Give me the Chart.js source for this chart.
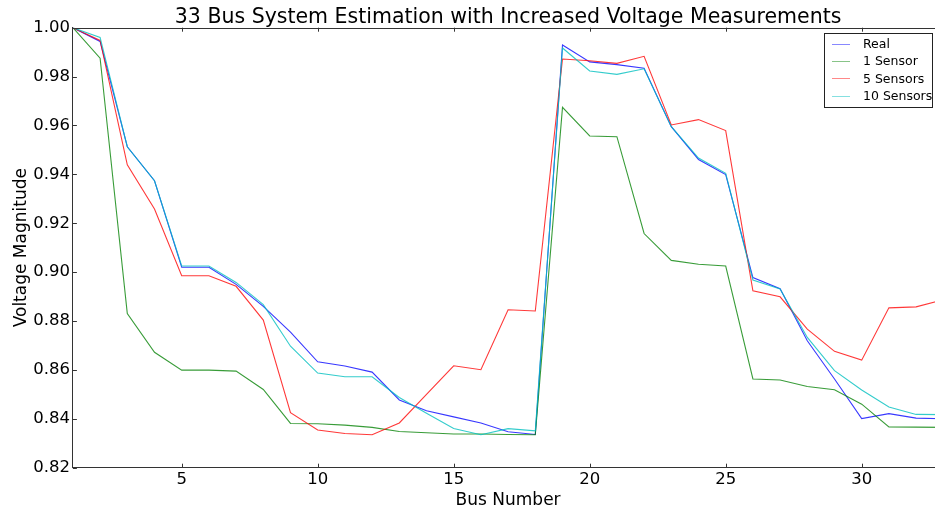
<!DOCTYPE html>
<html>
<head>
<meta charset="utf-8">
<script src="https://cdn.jsdelivr.net/npm/chart.js@4.4.1/dist/chart.umd.min.js"></script>
<style>
html, body { margin: 0; padding: 0; background: #fff; overflow: hidden; }
#wrap { width: 960px; height: 510px; }
</style>
</head>
<body>
<div id="wrap"><canvas id="chart" width="960" height="510"></canvas></div>
<script>
const busNumbers = [1, 2, 3, 4, 5, 6, 7, 8, 9, 10, 11, 12, 13, 14, 15, 16, 17,
    18, 19, 20, 21, 22, 23, 24, 25, 26, 27, 28, 29, 30, 31, 32, 33];
const realVoltage = [1.000, 0.9944, 0.9513, 0.9374, 0.9020, 0.9020, 0.8950, 0.8860, 0.8755, 0.8633, 0.8616,
    0.8591, 0.8477, 0.8433, 0.8408, 0.8383, 0.8347, 0.8336, 0.9929, 0.9860, 0.9849, 0.9834,
    0.9595, 0.9461, 0.9399, 0.8978, 0.8932, 0.8719, 0.8563, 0.8401, 0.8421, 0.8403, 0.8400];
const oneSensor = [1.000, 0.9875, 0.8831, 0.8672, 0.8599, 0.8599, 0.8595, 0.8520, 0.8381, 0.8380, 0.8374,
    0.8365, 0.8348, 0.8343, 0.8338, 0.8338, 0.8336, 0.8335, 0.9674, 0.9557, 0.9554, 0.9158,
    0.9048, 0.9032, 0.9025, 0.8563, 0.8559, 0.8532, 0.8519, 0.8460, 0.8367, 0.8366, 0.8365];
const fiveSensors = [1.000, 0.9948, 0.9439, 0.9258, 0.8985, 0.8985, 0.8942, 0.8804, 0.8425, 0.8354, 0.8340,
    0.8335, 0.8383, 0.8500, 0.8617, 0.8601, 0.8846, 0.8841, 0.9872, 0.9865, 0.9854, 0.9883,
    0.9602, 0.9624, 0.9579, 0.8924, 0.8899, 0.8767, 0.8676, 0.8640, 0.8854, 0.8858, 0.8887];
const tenSensors = [1.000, 0.9960, 0.9513, 0.9374, 0.9025, 0.9025, 0.8958, 0.8867, 0.8697, 0.8587, 0.8572,
    0.8572, 0.8487, 0.8423, 0.8360, 0.8335, 0.8360, 0.8351, 0.9917, 0.9823, 0.9809, 0.9832,
    0.9595, 0.9467, 0.9404, 0.8968, 0.8931, 0.8733, 0.8597, 0.8518, 0.8448, 0.8418, 0.8417];

const xTickValues = [5, 10, 15, 20, 25, 30];
const yTickValues = [0.82, 0.84, 0.86, 0.88, 0.90, 0.92, 0.94, 0.96, 0.98, 1.00];
const seriesNames = ['Real', '1 Sensor', '5 Sensors', '10 Sensors'];
const seriesValues = [realVoltage, oneSensor, fiveSensors, tenSensors];
const seriesColors = ['rgba(0,0,255,0.78)', 'rgba(0,128,0,0.78)', 'rgba(255,0,0,0.78)', 'rgba(0,191,191,0.8)'];

const FONT = "'DejaVu Sans', sans-serif";
const AXIS_COLOR = '#333';

// matplotlib-ish extras: inward ticks, top spine, titles, legend box
const decorations = {
    id: 'decorations',
    afterDraw(chart) {
        const ctx = chart.ctx;
        const area = chart.chartArea;
        const xs = chart.scales.x;
        const ys = chart.scales.y;
        ctx.save();
        ctx.strokeStyle = AXIS_COLOR;
        ctx.lineWidth = 1;
        ctx.beginPath();
        ctx.moveTo(area.left, Math.round(area.top) + 0.5);
        ctx.lineTo(area.right, Math.round(area.top) + 0.5);
        xTickValues.forEach(v => {
            let px = Math.round(xs.getPixelForValue(v)) + 0.5;
            ctx.moveTo(px, area.bottom);
            ctx.lineTo(px, area.bottom - 4);
            ctx.moveTo(px, area.top);
            ctx.lineTo(px, area.top + 4);
        });
        yTickValues.forEach(v => {
            let py = Math.round(ys.getPixelForValue(v)) + 0.5;
            ctx.moveTo(area.left, py);
            ctx.lineTo(area.left + 4, py);
        });
        ctx.stroke();

        ctx.fillStyle = '#000';
        ctx.textAlign = 'center';
        ctx.textBaseline = 'alphabetic';
        ctx.font = '20.5px ' + FONT;
        ctx.fillText('33 Bus System Estimation with Increased Voltage Measurements', (area.left + area.right) / 2, 23);
        ctx.font = '17px ' + FONT;
        ctx.fillText('Bus Number', (area.left + area.right) / 2, 504.5);
        ctx.save();
        ctx.translate(25.5, (area.top + area.bottom) / 2);
        ctx.rotate(-Math.PI / 2);
        ctx.fillText('Voltage Magnitude', 0, 0);
        ctx.restore();

        // legend
        const boxX = 824.5, boxY = 33.5, boxW = 108, boxH = 74;
        ctx.fillStyle = '#fff';
        ctx.fillRect(boxX, boxY, boxW, boxH);
        ctx.strokeStyle = '#222';
        ctx.strokeRect(boxX, boxY, boxW, boxH);
        ctx.font = '12.5px ' + FONT;
        ctx.textAlign = 'left';
        ctx.textBaseline = 'middle';
        chart.data.datasets.forEach((ds, i) => {
            let rowY = 43.5 + i * 17.4;
            ctx.globalAlpha = 0.6;
            ctx.strokeStyle = ds.borderColor;
            ctx.beginPath();
            ctx.moveTo(832, Math.round(rowY) + 0.5);
            ctx.lineTo(850, Math.round(rowY) + 0.5);
            ctx.stroke();
            ctx.globalAlpha = 1;
            ctx.fillStyle = '#000';
            ctx.fillText(ds.label, 863, rowY + 1);
        });
        ctx.restore();
    }
};

const datasets = seriesNames.map((name, i) => ({
    label: name,
    data: busNumbers.map((b, k) => ({x: b, y: seriesValues[i][k]})),
    borderColor: seriesColors[i],
    borderWidth: 1.1,
    pointRadius: 0,
    tension: 0,
    fill: false,
    order: seriesNames.length - i
}));

new Chart(document.getElementById('chart'), {
    type: 'line',
    data: {datasets: datasets},
    options: {
        responsive: false,
        animation: false,
        devicePixelRatio: 1,
        layout: {padding: {left: 0, top: 27.7, right: 16.7, bottom: 0}},
        plugins: {
            legend: {display: false},
            tooltip: {enabled: false},
            title: {display: false}
        },
        scales: {
            x: {
                type: 'linear',
                min: 1,
                max: 33,
                afterFit: scale => { scale.height = 42.3; },
                afterBuildTicks: scale => { scale.ticks = xTickValues.map(v => ({value: v})); },
                grid: {display: false, drawTicks: false},
                border: {display: true, color: AXIS_COLOR, width: 1},
                ticks: {
                    padding: 2,
                    color: '#000',
                    maxRotation: 0,
                    font: {family: FONT, size: 16.5},
                    callback: v => String(v)
                }
            },
            y: {
                type: 'linear',
                min: 0.82,
                max: 1.00,
                afterFit: scale => { scale.width = 72.9; },
                afterBuildTicks: scale => { scale.ticks = yTickValues.map(v => ({value: v})); },
                grid: {display: false, drawTicks: false},
                border: {display: true, color: AXIS_COLOR, width: 1},
                ticks: {
                    padding: 3,
                    color: '#000',
                    font: {family: FONT, size: 16.5},
                    callback: v => Number(v).toFixed(2)
                }
            }
        }
    },
    plugins: [decorations]
});
</script>
</body>
</html>
